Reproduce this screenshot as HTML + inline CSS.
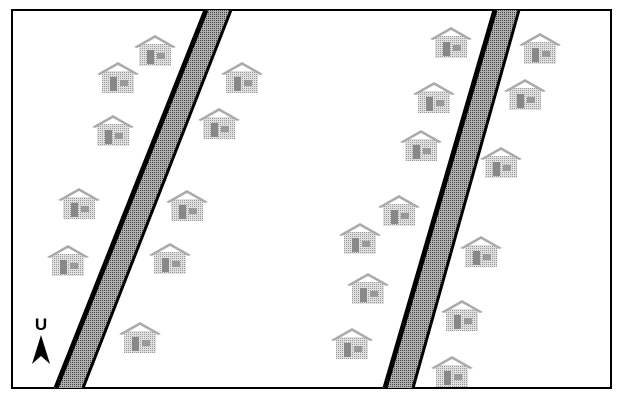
<!DOCTYPE html>
<html><head><meta charset="utf-8"><style>
html,body{margin:0;padding:0;background:#fff;width:634px;height:400px;overflow:hidden}
svg{display:block}
</style></head><body>
<svg width="634" height="400" viewBox="0 0 634 400">
<defs>
<pattern id="dots" width="2" height="2" patternUnits="userSpaceOnUse">
<rect width="2" height="2" fill="#b0b0b0"/><rect width="1" height="1" fill="#444"/>
</pattern>
<pattern id="hdots" width="2" height="2" patternUnits="userSpaceOnUse">
<rect width="2" height="2" fill="#e0e0e0"/><rect width="1" height="1" fill="#999"/>
</pattern>
</defs>
<rect x="12" y="10" width="599" height="378" fill="#fff" stroke="#000" stroke-width="2"/>
<g>
<polygon points="204,10 232,10 84,388 54,388" fill="url(#dots)"/>
<line x1="206" y1="10" x2="56" y2="388" stroke="#000" stroke-width="5"/>
<line x1="231" y1="10" x2="83" y2="388" stroke="#000" stroke-width="3"/>
</g>
<g>
<polygon points="493,10 520,10 414,388 383,388" fill="url(#dots)"/>
<line x1="495" y1="10" x2="385" y2="388" stroke="#000" stroke-width="5"/>
<line x1="519" y1="10" x2="413" y2="388" stroke="#000" stroke-width="3"/>
</g>
<g id="houses"></g>
<g>
<text x="41" y="330" font-family="Liberation Sans, sans-serif" font-weight="bold" font-size="17" text-anchor="middle">U</text>
<polygon points="41,335 32,364 41,356 50,364" fill="#000"/>
</g>
</svg>
<script>
const houseX=[155,118,242,113,219,79,187,68,170,140,451,540,434,525,421,501,399,360,481,368,462,352,452];
const houseY=[35,62,62,115,108,188,190,245,243,322,27,33,82,79,130,147,195,223,236,273,300,328,356];
const g=document.getElementById('houses');
const ns='http://www.w3.org/2000/svg';
houseX.forEach((cx,i)=>{
  const t=houseY[i];
  const h=document.createElementNS(ns,'g');
  
  
  h.innerHTML=`<rect x="${cx-16}" y="${t+9}" width="32" height="22" fill="url(#hdots)"/>
<polygon points="${cx-21},${t+12} ${cx},${t} ${cx+21},${t+12} ${cx+18},${t+13} ${cx},${t+3} ${cx-18},${t+13}" fill="#aaa"/>
<rect x="${cx-8}" y="${t+15}" width="7" height="14" fill="#888"/>
<rect x="${cx+2}" y="${t+18}" width="8" height="6" fill="#999"/>`;
  g.appendChild(h);
});
</script>
</body></html>
